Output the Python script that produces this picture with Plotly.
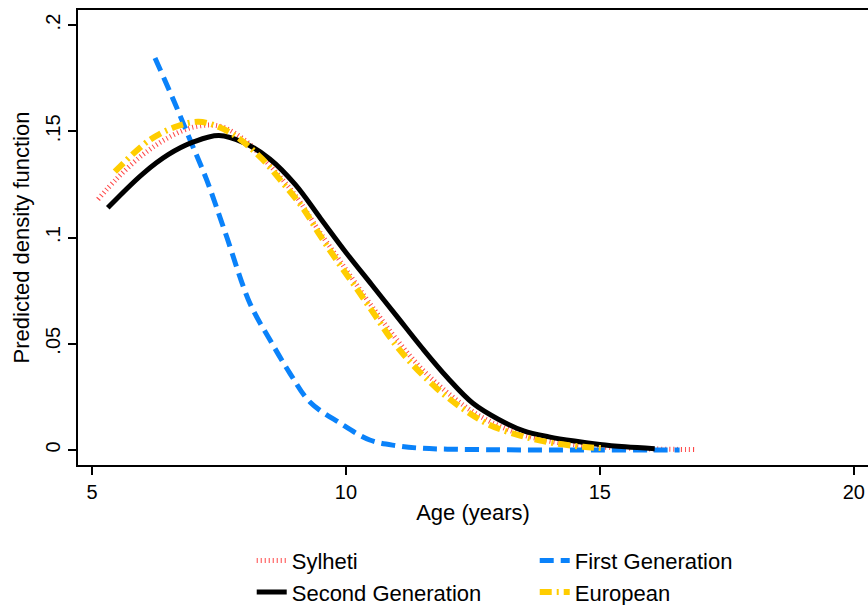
import plotly.graph_objects as go

# ---- data ----
syl_age = [5.12, 5.5, 6.0, 6.5, 7.0, 7.5, 8.0, 8.5, 9.0, 9.5, 10.0, 10.5, 11.0, 11.5, 12.0,
           12.5, 13.0, 13.5, 14.0, 14.5, 15.0, 15.5, 16.0, 16.5, 16.87]
syl_dens = [0.118, 0.128, 0.139, 0.147, 0.152, 0.1525, 0.146, 0.134, 0.120, 0.102, 0.085,
            0.068, 0.052, 0.038, 0.027, 0.018, 0.0115, 0.007, 0.0042, 0.0025, 0.0015,
            0.0009, 0.0005, 0.0003, 0.0002]

first_age = [6.24, 6.6, 6.93, 7.26, 7.62, 8.11, 8.5, 8.9, 9.29, 9.88, 10.47, 11.0, 11.5,
             12.0, 13.0, 14.0, 15.0, 16.0, 16.57]
first_dens = [0.1845, 0.165, 0.146, 0.127, 0.1026, 0.069, 0.052, 0.036, 0.0226, 0.0127,
              0.0047, 0.0020, 0.0008, 0.0004, 0.0001, 0.0, 0.0, 0.0, 0.0]

second_age = [5.31, 6.0, 6.5, 7.0, 7.5, 8.0, 8.5, 9.0, 9.5, 10.0, 10.5, 11.0, 11.5, 12.0,
              12.5, 13.0, 13.5, 14.0, 14.5, 15.0, 15.5, 16.08]
second_dens = [0.114, 0.130, 0.139, 0.145, 0.148, 0.1445, 0.137, 0.125, 0.109, 0.093, 0.078,
               0.063, 0.048, 0.034, 0.022, 0.0145, 0.009, 0.0062, 0.0042, 0.0026, 0.0015,
               0.0006]

euro_age = [5.45, 6.14, 6.69, 7.1, 7.5, 7.87, 8.35, 8.76, 9.15, 9.49, 9.84, 10.21, 10.57,
            10.93, 11.32, 11.79, 12.28, 12.83, 13.43, 14.0, 14.67, 15.1]
euro_dens = [0.131, 0.146, 0.1525, 0.1545, 0.152, 0.147, 0.137, 0.1256, 0.114, 0.101, 0.0885,
             0.076, 0.0635, 0.051, 0.040, 0.029, 0.0198, 0.0118, 0.0068, 0.0036, 0.0015,
             0.0008]

y_tickvals = [0, 0.05, 0.1, 0.15, 0.2]
y_ticktext = ["0", ".05", ".1", ".15", ".2"]
x_tickvals = [5, 10, 15, 20]

FONT = "Liberation Sans, Arial, Helvetica, sans-serif"

fig = go.Figure()
fig.add_trace(go.Scatter(x=syl_age, y=syl_dens, mode="lines", name="Sylheti",
                         line=dict(color="rgb(255,70,70)", width=5, dash="1px,3px",
                                   shape="spline")))
fig.add_trace(go.Scatter(x=first_age, y=first_dens, mode="lines", name="First Generation",
                         line=dict(color="rgb(10,130,250)", width=5, dash="14px,7px",
                                   shape="spline")))
fig.add_trace(go.Scatter(x=second_age, y=second_dens, mode="lines", name="Second Generation",
                         line=dict(color="black", width=5, shape="spline")))
fig.add_trace(go.Scatter(x=euro_age, y=euro_dens, mode="lines", name="European",
                         line=dict(color="rgb(255,205,0)", width=6, dash="12px,5px,2px,5px",
                                   shape="spline")))

fig.update_layout(
    width=868, height=605,
    margin=dict(l=78, r=0, t=10, b=140),
    paper_bgcolor="white", plot_bgcolor="white",
    font=dict(family=FONT, size=19, color="black"),
    showlegend=True,
    legend=dict(orientation="h", xref="container", yref="container",
                x=0.29, xanchor="left", y=0.108, yanchor="top",
                entrywidth=238, entrywidthmode="pixels", tracegroupgap=0,
                font=dict(family=FONT, size=22), itemwidth=30,
                bgcolor="rgba(0,0,0,0)"),
)
fig.update_xaxes(range=[4.724, 20.28], tickvals=x_tickvals, ticks="outside", ticklen=8,
                 tickwidth=1.5, tickcolor="black", showline=True, linecolor="black",
                 linewidth=2, mirror=True, showgrid=False, zeroline=False,
                 title=dict(text="Age (years)", font=dict(size=22), standoff=3),
                 tickfont=dict(size=20))
fig.update_yaxes(range=[-0.00706, 0.2071], tickvals=y_tickvals, ticktext=y_ticktext,
                 ticks="outside", ticklen=8, tickwidth=1.5, tickcolor="black",
                 showline=True, linecolor="black", linewidth=2, mirror=False,
                 showgrid=False, zeroline=False, tickangle=-90,
                 title=dict(text="Predicted density function", font=dict(size=22), standoff=6),
                 tickfont=dict(size=20))

fig.write_html("out.html")
